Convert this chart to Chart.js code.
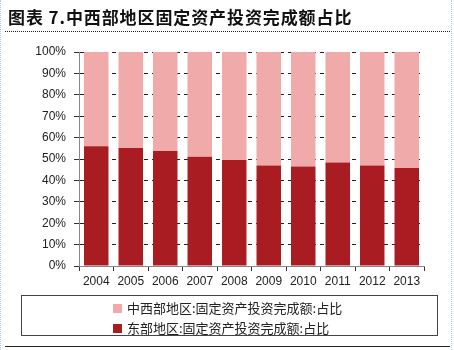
<!DOCTYPE html>
<html><head><meta charset="utf-8">
<script src="https://cdn.jsdelivr.net/npm/chart.js@4/dist/chart.umd.min.js"></script>
<style>
html,body{margin:0;padding:0;background:#fff;}
#wrap{position:relative;width:454px;height:350px;overflow:hidden;}
#c{position:absolute;left:0;top:0;}
#title{position:absolute;left:8px;top:4px;font:bold 17px "Noto Sans CJK SC";color:#111;white-space:nowrap;letter-spacing:0.9px;}
#topline{position:absolute;left:5px;top:31px;width:445px;border-top:1px dotted #222;}
#botline{position:absolute;left:5px;top:346px;width:445px;border-top:1px solid #222;}
#lside{position:absolute;left:0;top:0;height:350px;border-left:1px dotted #a9c8f0;}
#rside{position:absolute;left:451px;top:0;height:350px;border-left:1px dotted #a9c8f0;}
#legend{position:absolute;left:21px;top:295px;width:417px;height:41px;border:1px solid #444;box-sizing:border-box;}
.li{position:absolute;left:91px;font:13px "Noto Sans CJK SC";color:#222;white-space:nowrap;line-height:16px;}
.sw{display:inline-block;width:9px;height:9px;margin-right:5px;vertical-align:-0px;}
</style></head>
<body><div id="wrap">
<canvas id="c" width="454" height="350"></canvas>
<div id="title">图表 7.中西部地区固定资产投资完成额占比</div>
<div id="topline"></div>
<div id="botline"></div>
<div id="lside"></div><div id="rside"></div>
<div id="legend"></div>
</div>
<script>
const years = ['2004','2005','2006','2007','2008','2009','2010','2011','2012','2013'];
const eastShare = [55.9, 55.1, 53.7, 51.1, 49.5, 47.0, 46.5, 48.4, 47.0, 45.8];
const midWestShare = [44.1, 44.9, 46.3, 48.9, 50.5, 53.0, 53.5, 51.6, 53.0, 54.2];
const seriesNames = ['中西部地区:固定资产投资完成额:占比', '东部地区:固定资产投资完成额:占比'];
const yTicks = [0,10,20,30,40,50,60,70,80,90,100];

const colDark = '#A91D22';
const colPink = '#F0AAAA';

const leg = document.getElementById('legend');
[[seriesNames[0], colPink, 4], [seriesNames[1], colDark, 24]].forEach(([t,c,y])=>{
  const d = document.createElement('div'); d.className='li'; d.style.top = y+'px';
  d.innerHTML = '<span class="sw" style="background:'+c+'"></span>' + t;
  leg.appendChild(d);
});

Chart.defaults.animation = false;
new Chart(document.getElementById('c'), {
  type: 'bar',
  data: {
    labels: years,
    datasets: [
      {label: seriesNames[1], data: eastShare, backgroundColor: colDark, stack: 's', barPercentage: 0.71, categoryPercentage: 1},
      {label: seriesNames[0], data: midWestShare, backgroundColor: colPink, stack: 's', barPercentage: 0.71, categoryPercentage: 1}
    ]
  },
  options: {
    responsive: false,
    layout: {padding: {top: 52, right: 30, left: 0, bottom: 0}},
    plugins: {legend: {display: false}, tooltip: {enabled: false}},
    scales: {
      x: {
        stacked: true,
        afterFit: s => { s.height = 84; },
        grid: {display: true, drawOnChartArea: false, offset: true, tickLength: 5, tickColor: '#333', tickBorderDash: [10,0]},
        border: {color: '#888', width: 1},
        ticks: {color: '#222', padding: 3, font: {family: 'Liberation Sans', size: 12}}
      },
      y: {
        stacked: true, min: 0, max: 100,
        afterFit: s => { s.width = 79; },
        afterBuildTicks: s => { s.ticks = yTicks.map(v => ({value: v})); },
        grid: {display: true, color: '#222', tickLength: 5, tickColor: '#333', tickBorderDash: [10,0]},
        border: {color: '#888', width: 1, dash: [4,4]},
        ticks: {color: '#222', padding: 8, callback: v => v + '%', font: {family: 'Liberation Sans', size: 12}}
      }
    }
  }
});
</script>
</body></html>
